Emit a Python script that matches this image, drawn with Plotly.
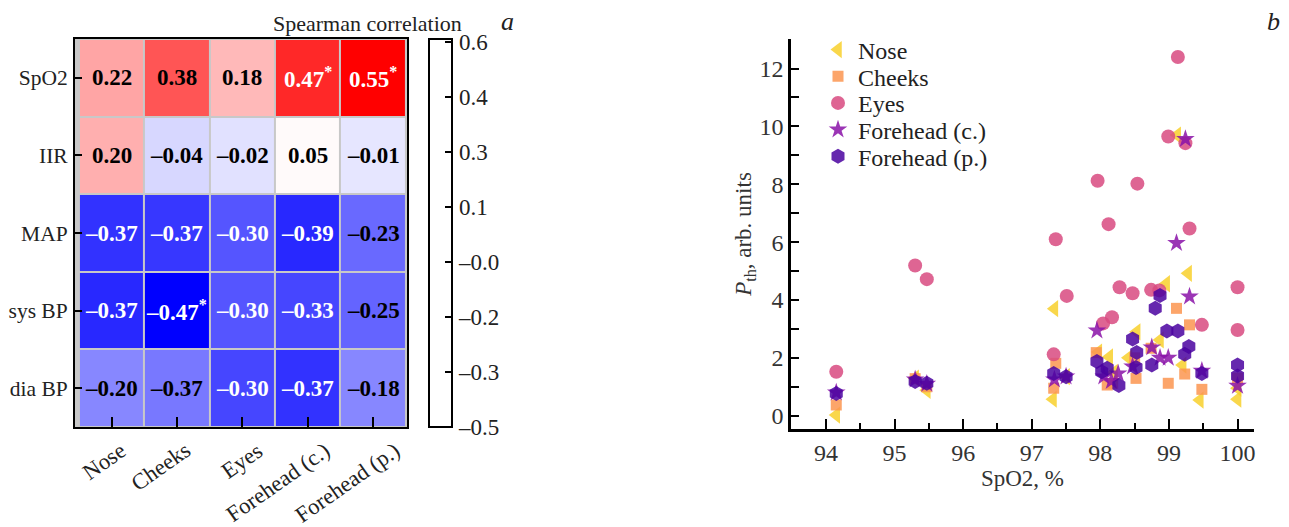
import plotly.graph_objects as go

# ---------------- panel a: Spearman correlation matrix ----------------
rows = ["SpO2", "IIR", "MAP", "sys BP", "dia BP"]
regions = ["Nose", "Cheeks", "Eyes", "Forehead (c.)", "Forehead (p.)"]
rho = [
    [0.22, 0.38, 0.18, 0.47, 0.55],
    [0.20, -0.04, -0.02, 0.05, -0.01],
    [-0.37, -0.37, -0.30, -0.39, -0.23],
    [-0.37, -0.47, -0.30, -0.33, -0.25],
    [-0.20, -0.37, -0.30, -0.37, -0.18],
]
significant = [
    [0, 0, 0, 1, 1],
    [0, 0, 0, 0, 0],
    [0, 0, 0, 0, 0],
    [0, 1, 0, 0, 0],
    [0, 0, 0, 0, 0],
]
# cell shading as it appears in the picture
cell_shade = [
    [0.22, 0.38, 0.18, 0.47, 0.55],
    [0.20, -0.04, -0.02, 0.05, -0.01],
    [-0.37, -0.36, -0.30, -0.39, -0.26],
    [-0.39, -0.47, -0.30, -0.33, -0.27],
    [-0.20, -0.23, -0.33, -0.37, -0.20],
]
cbar_labels = ["\u20130.5", "\u20130.3", "\u20130.2", "\u20130.0", "0.1", "0.3", "0.4", "0.6"]

# ---------------- panel b: P_th vs SpO2 ----------------
nose_x = [94.15, 95.30, 95.47, 97.33, 97.31, 97.50, 97.97, 98.13, 98.20, 98.41, 98.53,
          98.87, 98.96, 99.12, 99.20, 99.28, 99.45, 100.0, 100.0]
nose_y = [0.02, 1.30, 0.88, 3.70, 0.57, 1.35, 2.20, 2.03, 1.50, 2.00, 2.90,
          2.62, 4.56, 9.70, 1.75, 4.92, 0.54, 0.57, 0.95]
cheeks_x = [94.15, 95.30, 95.47, 97.35, 97.32, 97.94, 98.10, 98.18, 98.52, 98.50,
            98.74, 98.99, 99.11, 99.23, 99.30, 99.48, 100.0]
cheeks_y = [0.37, 1.28, 1.00, 1.81, 0.95, 2.18, 1.06, 1.12, 1.29, 2.00,
            2.33, 1.12, 3.71, 1.44, 3.14, 0.91, 1.30]
eyes_x = [94.15, 95.30, 95.47, 97.35, 97.32, 97.51, 97.96, 98.04, 98.12, 98.17, 98.28,
          98.47, 98.54, 98.74, 98.86, 98.99, 99.13, 99.24, 99.30, 99.48, 100.0, 100.0]
eyes_y = [1.52, 5.19, 4.72, 6.10, 2.12, 4.14, 8.12, 3.19, 6.62, 3.40, 4.44,
          4.23, 8.02, 4.35, 4.33, 9.65, 12.40, 9.42, 6.47, 3.14, 4.44, 2.96]
fc_x = [94.15, 95.30, 95.47, 97.33, 97.50, 97.95, 98.05, 98.16, 98.26, 98.47, 98.75,
        98.87, 98.99, 99.11, 99.24, 99.30, 99.48, 100.0]
fc_y = [0.80, 1.25, 1.10, 1.25, 1.35, 2.94, 1.35, 1.20, 1.46, 1.70, 2.36,
        2.00, 2.00, 5.97, 9.56, 4.12, 1.55, 1.03]
fp_x = [94.15, 95.30, 95.47, 97.32, 97.50, 97.95, 98.02, 98.10, 98.27, 98.47, 98.53,
        98.52, 98.75, 98.80, 98.87, 98.97, 99.13, 99.23, 99.29, 99.48, 100.0, 100.0]
fp_y = [0.77, 1.18, 1.12, 1.46, 1.35, 1.87, 1.52, 1.64, 1.04, 2.65, 2.18,
        1.67, 1.75, 3.71, 4.15, 2.93, 2.93, 2.12, 2.39, 1.46, 1.75, 1.37]

series = [
    ("Nose", nose_x, nose_y, "triangle-left", "#f8d02c", 15),
    ("Cheeks", cheeks_x, cheeks_y, "square", "#fb9550", 11),
    ("Eyes", eyes_x, eyes_y, "circle", "#d84a80", 14),
    ("Forehead (c.)", fc_x, fc_y, "star", "#8a12a8", 14),
    ("Forehead (p.)", fp_x, fp_y, "hexagon", "#4a02a0", 15),
]

# page body has an 8 px margin: lay out in window pixels, convert to paper fractions
OFF = 8
W, H = 1289 - OFF, 527 - OFF
def px(X):
    return (X - OFF) / W
def py(Y):
    return 1 - (Y - OFF) / H

SERIF = "Liberation Serif"

fig = go.Figure()

fig.add_trace(go.Heatmap(
    z=cell_shade, x=regions, y=rows,
    colorscale=[[0, "rgb(0,0,255)"], [0.5, "rgb(255,255,255)"], [1, "rgb(255,0,0)"]],
    zmin=-0.47, zmax=0.55, showscale=False, xgap=2, ygap=2,
    xaxis="x", yaxis="y", hoverinfo="skip",
))

# empty trace so the colour-bar axis is drawn
fig.add_trace(go.Scatter(x=[], y=[], xaxis="x3", yaxis="y3", showlegend=False,
                         hoverinfo="skip"))

legend_rows = [50, 76.7, 103.3, 130, 156.7]
legend_layouts = {}
for k, (name, xs, ys, sym, col, size) in enumerate(series):
    lg = "legend" if k == 0 else f"legend{k + 1}"
    fig.add_trace(go.Scatter(
        x=xs, y=ys, mode="markers", name=name, xaxis="x2", yaxis="y2", legend=lg,
        marker=dict(symbol=sym, size=size, color=col, opacity=0.85,
                    line=dict(width=0)),
    ))
    legend_layouts[lg] = dict(x=px(818), y=py(legend_rows[k]), xanchor="left",
                              yanchor="middle", bgcolor="rgba(0,0,0,0)",
                              font=dict(family=SERIF, size=24, color="#222"),
                              itemwidth=30)

annotations = []
for i, r in enumerate(rows):
    for j, c in enumerate(regions):
        v = rho[i][j]
        s = ("\u2013" if v < 0 else "") + f"{abs(v):.2f}"
        if significant[i][j]:
            s += "<sup>*</sup>"
        shade = cell_shade[i][j]
        tc = "white" if (shade >= 0.45 or shade <= -0.28) else "black"
        annotations.append(dict(x=c, y=r, xref="x", yref="y", text="<b>" + s + "</b>",
                                showarrow=False,
                                font=dict(family=SERIF, size=23, color=tc)))

# rotated category labels under the matrix
label_shift = [21, 21, 28, 29, 34]
for c, sh in zip(regions, label_shift):
    annotations.append(dict(x=c, y=0, xref="x", yref="y domain", text=c, showarrow=False,
                            textangle=-35, xanchor="right", yanchor="top",
                            xshift=sh, yshift=-8,
                            font=dict(family=SERIF, size=22.5, color="#222")))

annotations += [
    dict(x=px(367), y=py(23), xref="paper", yref="paper", text="Spearman correlation",
         xanchor="center", yanchor="middle",
         showarrow=False, font=dict(family=SERIF, size=22, color="#222")),
    dict(x=px(507), y=py(21), xref="paper", yref="paper", text="<i>a</i>",
         xanchor="center", yanchor="middle",
         showarrow=False, font=dict(family=SERIF, size=26, color="#222")),
    dict(x=px(1273), y=py(21), xref="paper", yref="paper", text="<i>b</i>",
         xanchor="center", yanchor="middle",
         showarrow=False, font=dict(family=SERIF, size=26, color="#222")),
]

shapes = [
    dict(type="rect", xref="x domain", yref="y domain", x0=0, x1=1, y0=0, y1=1,
         fillcolor="#c8c8c8", line=dict(width=0), layer="below"),
    dict(type="rect", xref="x3 domain", yref="y3 domain", x0=0, x1=1, y0=0, y1=1,
         fillcolor="white", line=dict(color="black", width=2), layer="below"),
]

tickfont = dict(family=SERIF, size=23, color="#222")
fig.update_layout(
    width=W, height=H, margin=dict(l=0, r=0, t=0, b=0, autoexpand=False),
    paper_bgcolor="white", plot_bgcolor="white",
    font=dict(family=SERIF, size=22, color="#222"),
    showlegend=True,
    xaxis=dict(domain=[px(75), px(407)], anchor="y", showline=True, mirror=True,
               linecolor="black", linewidth=2, ticks="inside", ticklen=10, tickwidth=1.5,
               tickcolor="black", showticklabels=False,
               showgrid=False, automargin=False, zeroline=False, fixedrange=True),
    yaxis=dict(domain=[py(427), py(39)], anchor="x", autorange="reversed",
               showline=True, mirror=True, linecolor="black", linewidth=2,
               ticks="inside", ticklen=7, tickwidth=1.5, tickcolor="black",
               tickfont=dict(family=SERIF, size=21.5, color="#222"),
               showgrid=False, zeroline=False, ticklabelstandoff=1,
               automargin=False),
    xaxis3=dict(domain=[px(429), px(452)], anchor="y3", visible=False, range=[0, 1],
                automargin=False),
    yaxis3=dict(domain=[py(427), py(39)], anchor="x3", side="right",
                range=[0, 7.05], tickvals=list(range(len(cbar_labels))),
                ticktext=cbar_labels, ticks="inside", ticklen=7, tickwidth=1.5,
                tickcolor="black", showline=False, showgrid=False, zeroline=False,
                tickfont=tickfont, ticklabelstandoff=6, automargin=False),
    xaxis2=dict(domain=[px(791), px(1254)], anchor="y2", range=[93.49, 100.24],
                tick0=94, dtick=1, ticks="inside", ticklen=10, tickwidth=1.5,
                tickcolor="black", showline=True, linecolor="black", linewidth=2.5,
                showgrid=False, zeroline=False, automargin=False,
                tickfont=dict(family=SERIF, size=24, color="#333"),
                minor=dict(dtick=0.5, ticks="inside", ticklen=6, tickwidth=1.5,
                           tickcolor="black", showgrid=False),
                title=dict(text="SpO2, %", font=dict(family=SERIF, size=23, color="#333"),
                           standoff=4)),
    yaxis2=dict(domain=[py(429), py(39)], anchor="x2", range=[-0.46, 13.02],
                tick0=0, dtick=2, ticks="inside", ticklen=8, tickwidth=1.5,
                tickcolor="black", showline=True, linecolor="black", linewidth=2.5,
                showgrid=False, zeroline=False, automargin=False,
                tickfont=dict(family=SERIF, size=24, color="#333"),
                minor=dict(dtick=1, ticks="inside", ticklen=8, tickwidth=1.5,
                           tickcolor="black", showgrid=False),
                title=dict(text="<i>P</i><sub>th</sub>, arb. units",
                           font=dict(family=SERIF, size=23, color="#333"), standoff=2)),
    annotations=annotations,
    shapes=shapes,
    **legend_layouts,
)

fig.write_html("out.html")
